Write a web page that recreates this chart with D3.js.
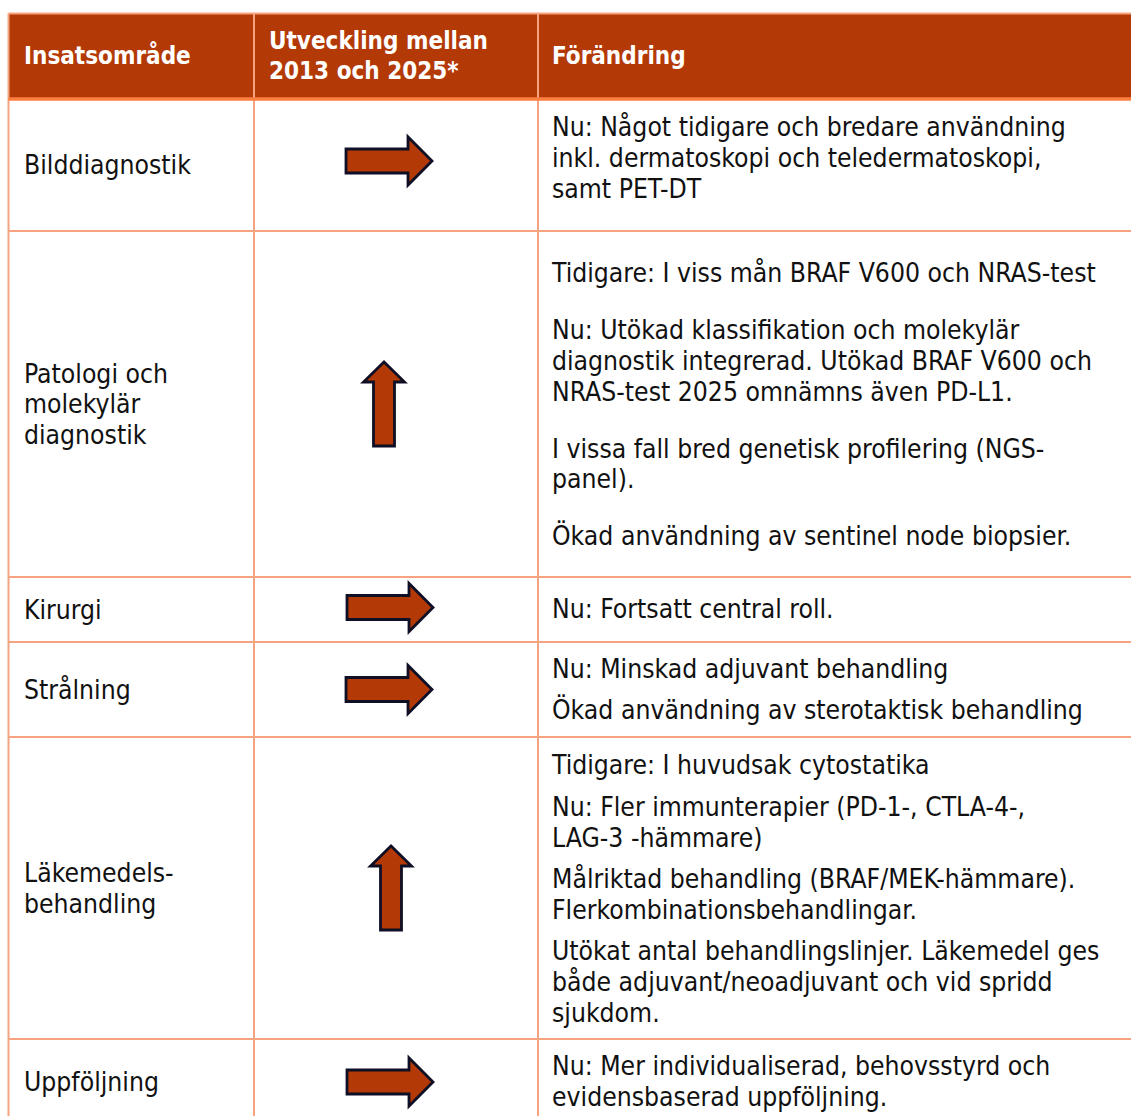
<!DOCTYPE html>
<html><head><meta charset="utf-8">
<script src="https://cdn.jsdelivr.net/npm/d3@7"></script>
<style>body{margin:0;background:#fff}svg{display:block}</style></head>
<body><svg id="c" width="1131" height="1116"></svg>
<script>
// ---------- data ----------
const headers = [["Insatsområde"], ["Utveckling mellan", "2013 och 2025*"], ["Förändring"]];
const categories = [["Bilddiagnostik"], ["Patologi och", "molekylär", "diagnostik"], ["Kirurgi"], ["Strålning"], ["Läkemedels-", "behandling"], ["Uppföljning"]];
const trends = ["right", "up", "right", "right", "up", "right"];
const changes = [
  [["Nu: Något tidigare och bredare användning", "inkl. dermatoskopi och teledermatoskopi,", "samt PET-DT"]],
  [["Tidigare: I viss mån BRAF V600 och NRAS-test"], ["Nu: Utökad klassifikation och molekylär", "diagnostik integrerad. Utökad BRAF V600 och", "NRAS-test 2025 omnämns även PD-L1."], ["I vissa fall bred genetisk profilering (NGS-", "panel)."], ["Ökad användning av sentinel node biopsier."]],
  [["Nu: Fortsatt central roll."]],
  [["Nu: Minskad adjuvant behandling"], ["Ökad användning av sterotaktisk behandling"]],
  [["Tidigare: I huvudsak cytostatika"], ["Nu: Fler immunterapier (PD-1-, CTLA-4-,", "LAG-3 -hämmare)"], ["Målriktad behandling (BRAF/MEK-hämmare).", "Flerkombinationsbehandlingar."], ["Utökat antal behandlingslinjer. Läkemedel ges", "både adjuvant/neoadjuvant och vid spridd", "sjukdom."]],
  [["Nu: Mer individualiserad, behovsstyrd och", "evidensbaserad uppföljning."]]
];

// ---------- layout ----------
const colEdges = [8.5, 254, 538, 1145];
const headTop = 13.5, headBottom = 99;
const rowEdges = [99, 231, 577, 642, 737, 1039, 1125];
const topPad = [28, 42, 32, 27, 28, 27];
const paraGap = [0, 26, 0, 10, 10.5, 0];
const lineH = 30.8;
const arrowCx = [389, 384, 390, 389, 391, 390];
const arrowDy = [-4, 0, -2, 0, 0, 0];
const textPadX = [24, 269, 552];
const C = { head: "#B33A06", border: "#F5A47F", headLine: "#FF7F41", arrowStroke: "#0F0F26", text: "#111" };
const FONT = "'DejaVu Sans Condensed','DejaVu Sans',sans-serif";

const svg = d3.select("#c");

// fit font size to the reference line widths
const probe = svg.append("text").attr("font-family", FONT).attr("font-size", 100).text(changes[0][0][0]);
const fs = 514 / probe.node().getComputedTextLength() * 100;
probe.remove();
const hprobe = svg.append("text").attr("font-family", FONT).attr("font-weight", "bold").attr("font-size", 100).text(headers[1][0]);
const hfs = 219 / hprobe.node().getComputedTextLength() * 100;
hprobe.remove();

const y = d3.scaleOrdinal().domain(d3.range(rowEdges.length)).range(rowEdges);

// header background
svg.append("rect").attr("x", colEdges[0]).attr("y", headTop).attr("width", colEdges[3] - colEdges[0]).attr("height", headBottom - headTop).attr("fill", C.head);

// header text
headers.forEach((lines, ci) => {
  const cy = (headTop + headBottom) / 2 - 0.5;
  lines.forEach((t, li) => {
    svg.append("text").attr("x", textPadX[ci])
      .attr("y", cy + (li - (lines.length - 1) / 2) * 30 + 0.36 * hfs)
      .attr("font-family", FONT).attr("font-weight", "bold").attr("font-size", hfs)
      .attr("fill", "#fff").text(t);
  });
});

// body rows
categories.forEach((lines, ri) => {
  const top = y(ri), bot = y(ri + 1), cy = (top + bot) / 2;
  lines.forEach((t, li) => {
    svg.append("text").attr("x", textPadX[0])
      .attr("y", cy + (li - (lines.length - 1) / 2) * lineH + 0.36 * fs)
      .attr("font-family", FONT).attr("font-size", fs).attr("fill", C.text).text(t);
  });
  let yy = top + topPad[ri];
  changes[ri].forEach((para, pi) => {
    if (pi > 0) yy += paraGap[ri];
    para.forEach(t => {
      svg.append("text").attr("x", textPadX[2]).attr("y", yy + 0.36 * fs)
        .attr("font-family", FONT).attr("font-size", fs).attr("fill", C.text).text(t);
      yy += lineH;
    });
  });
  // arrow
  const ax = arrowCx[ri], ay = cy + arrowDy[ri];
  let pts;
  if (trends[ri] === "right") {
    const w = 86, sh = 12, hh = 24, hl = 24, x0 = ax - w / 2, x1 = ax + w / 2;
    pts = [[x0, ay - sh], [x1 - hl, ay - sh], [x1 - hl, ay - hh], [x1, ay], [x1 - hl, ay + hh], [x1 - hl, ay + sh], [x0, ay + sh]];
  } else {
    const h = 84, sw = 10.5, hw = 20.5, hl = 20, y0 = ay + h / 2, y1 = ay - h / 2;
    pts = [[ax - sw, y0], [ax - sw, y1 + hl], [ax - hw, y1 + hl], [ax, y1], [ax + hw, y1 + hl], [ax + sw, y1 + hl], [ax + sw, y0]];
  }
  svg.append("path").attr("d", d3.line()(pts) + "Z").attr("fill", C.head)
    .attr("stroke", C.arrowStroke).attr("stroke-width", 2.8).attr("stroke-linejoin", "miter");
});

// grid lines
const g = svg.append("g").attr("stroke", C.border).attr("stroke-width", 2);
g.append("line").attr("x1", colEdges[0]).attr("x2", colEdges[3]).attr("y1", headTop).attr("y2", headTop);
rowEdges.slice(1).forEach(v => g.append("line").attr("x1", colEdges[0]).attr("x2", colEdges[3]).attr("y1", v).attr("y2", v));
colEdges.slice(0, 3).forEach(v => g.append("line").attr("x1", v).attr("x2", v).attr("y1", headTop).attr("y2", rowEdges[rowEdges.length - 1]));
svg.append("line").attr("x1", colEdges[0]).attr("x2", colEdges[3]).attr("y1", headBottom).attr("y2", headBottom)
  .attr("stroke", C.headLine).attr("stroke-width", 3.5);
</script></body></html>
